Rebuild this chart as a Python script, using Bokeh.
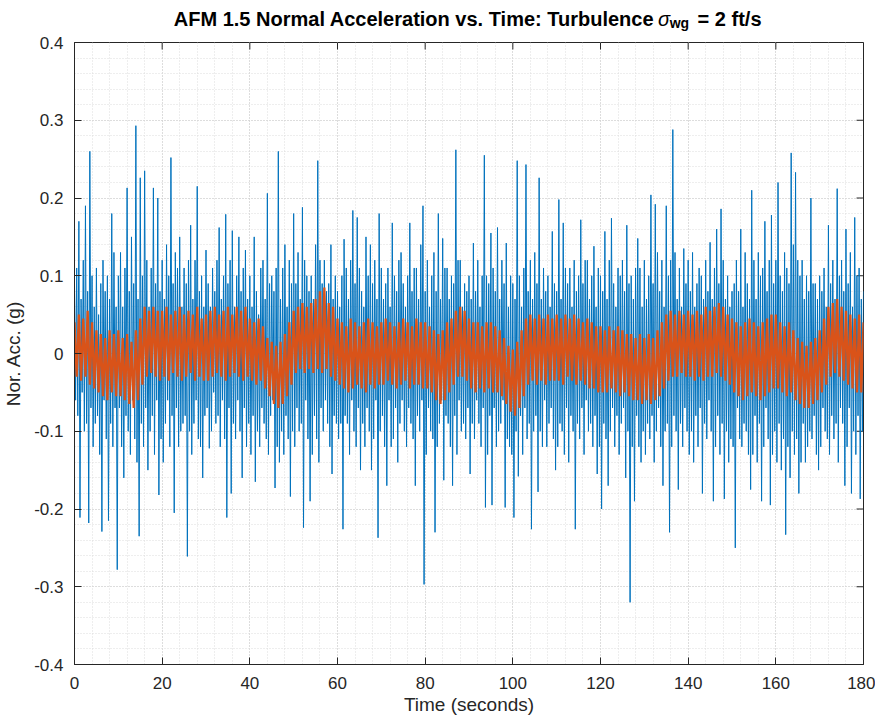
import numpy as np
from bokeh.plotting import figure
from bokeh.layouts import column
from bokeh.models import Range1d, FixedTicker, Label
from bokeh.embed import file_html
from bokeh.resources import INLINE

# ---------------- data ----------------
blue_step = 0.25     # seconds between blue samples
orange_step = 0.5    # seconds between orange samples

blue_acc = [
    0.09, -0.06, 0.11, -0.08, 0.17, -0.211, 0.07, -0.05, 0.12, -0.10, 0.19, -0.09, 0.08, -0.218, 0.26, -0.07, 0.10, -0.12, 0.06, -0.09,
    0.11, -0.08, 0.05, -0.13, 0.09, -0.229, 0.12, -0.06, 0.08, -0.11, 0.10, -0.215, 0.07, -0.09, 0.18, -0.12, 0.13, -0.07, 0.06, -0.278,
    0.10, -0.07, 0.13, -0.12, 0.06, -0.16, 0.11, -0.08, 0.213, -0.10, 0.08, -0.13, 0.15, -0.06, 0.09, -0.11, 0.293, -0.14, 0.07, -0.235,
    0.226, -0.09, 0.10, -0.12, 0.235, -0.07, 0.12, -0.15, 0.06, -0.10, 0.11, -0.08, 0.213, -0.13, 0.09, -0.06, 0.20, -0.182, 0.08, -0.11,
    0.12, -0.14, 0.07, -0.09, 0.14, -0.06, 0.10, -0.12, 0.252, -0.08, 0.09, -0.205, 0.13, -0.07, 0.11, -0.12, 0.15, -0.10, 0.06, -0.09,
    0.11, -0.08, 0.09, -0.261, 0.12, -0.10, 0.165, -0.13, 0.07, -0.09, 0.12, -0.06, 0.215, -0.11, 0.08, -0.12, 0.10, -0.16, 0.06, -0.08,
    0.133, -0.07, 0.09, -0.122, 0.06, -0.10, 0.11, -0.05, 0.08, -0.09, 0.12, -0.08, 0.162, -0.12, 0.07, -0.06, 0.10, -0.11, 0.179, -0.211,
    0.09, -0.07, 0.12, -0.18, 0.158, -0.09, 0.06, -0.11, 0.10, -0.06, 0.15, -0.10, 0.08, -0.16, 0.11, -0.07, 0.133, -0.12, 0.07, -0.09,
    0.10, -0.13, 0.06, -0.08, 0.15, -0.165, 0.08, -0.10, 0.05, -0.12, 0.11, -0.07, 0.12, -0.09, 0.07, -0.11, 0.206, -0.13, 0.09, -0.08,
    0.10, -0.06, 0.08, -0.173, 0.11, -0.12, 0.26, -0.14, 0.07, -0.10, 0.11, -0.13, 0.14, -0.08, 0.06, -0.11, 0.12, -0.184, 0.09, -0.10,
    0.18, -0.12, 0.09, -0.07, 0.13, -0.10, 0.07, -0.09, 0.188, -0.224, 0.12, -0.06, 0.10, -0.11, 0.08, -0.19, 0.10, -0.13, 0.07, -0.08,
    0.14, -0.11, 0.248, -0.14, 0.12, -0.07, 0.09, -0.10, 0.12, -0.06, 0.08, -0.09, 0.09, -0.12, 0.14, -0.155, 0.07, -0.08, 0.10, -0.09,
    0.08, -0.11, 0.06, -0.09, 0.10, -0.226, 0.147, -0.08, 0.11, -0.09, 0.07, -0.13, 0.12, -0.06, 0.184, -0.10, 0.09, -0.12, 0.175, -0.07,
    0.11, -0.15, 0.08, -0.09, 0.06, -0.12, 0.15, -0.07, 0.10, -0.10, 0.14, -0.15, 0.09, -0.11, 0.12, -0.06, 0.07, -0.237, 0.18, -0.10,
    0.11, -0.08, 0.07, -0.12, 0.09, -0.17, 0.11, -0.06, 0.06, -0.12, 0.168, -0.11, 0.10, -0.07, 0.08, -0.14, 0.12, -0.09, 0.13, -0.06,
    0.09, -0.10, 0.06, -0.12, 0.10, -0.07, 0.168, -0.09, 0.08, -0.11, 0.11, -0.17, 0.11, -0.08, 0.07, -0.10, 0.14, -0.06, 0.19, -0.297,
    0.08, -0.13, 0.12, -0.07, 0.06, -0.10, 0.10, -0.11, 0.13, -0.23, 0.08, -0.12, 0.18, -0.09, 0.07, -0.06, 0.148, -0.163, 0.11, -0.08,
    0.11, -0.09, 0.07, -0.12, 0.10, -0.17, 0.09, -0.08, 0.262, -0.13, 0.12, -0.06, 0.12, -0.10, 0.06, -0.09, 0.09, -0.11, 0.08, -0.07,
    0.10, -0.155, 0.07, -0.09, 0.142, -0.11, 0.08, -0.06, 0.12, -0.09, 0.06, -0.12, 0.10, -0.07, 0.255, -0.198, 0.10, -0.13, 0.09, -0.08,
    0.155, -0.195, 0.11, -0.07, 0.08, -0.12, 0.162, -0.10, 0.07, -0.09, 0.12, -0.06, 0.09, -0.198, 0.142, -0.11, 0.06, -0.12, 0.10, -0.13,
    0.09, -0.211, 0.07, -0.10, 0.248, -0.158, 0.10, -0.08, 0.06, -0.13, 0.11, -0.07, 0.243, -0.11, 0.08, -0.09, 0.12, -0.226, 0.07, -0.10,
    0.13, -0.08, 0.09, -0.178, 0.226, -0.10, 0.07, -0.12, 0.11, -0.06, 0.08, -0.12, 0.10, -0.09, 0.06, -0.07, 0.157, -0.11, 0.09, -0.15,
    0.08, -0.12, 0.198, -0.09, 0.07, -0.10, 0.168, -0.13, 0.11, -0.07, 0.09, -0.14, 0.11, -0.08, 0.06, -0.10, 0.12, -0.226, 0.08, -0.09,
    0.10, -0.11, 0.172, -0.07, 0.09, -0.13, 0.12, -0.06, 0.12, -0.10, 0.07, -0.09, 0.10, -0.12, 0.138, -0.08, 0.06, -0.155, 0.11, -0.12,
    0.10, -0.20, 0.08, -0.09, 0.157, -0.11, 0.07, -0.17, 0.12, -0.10, 0.174, -0.07, 0.09, -0.12, 0.06, -0.08, 0.11, -0.13, 0.10, -0.09,
    0.12, -0.07, 0.08, -0.16, 0.165, -0.10, 0.09, -0.32, 0.10, -0.12, 0.07, -0.19, 0.11, -0.08, 0.148, -0.12, 0.11, -0.14, 0.06, -0.10,
    0.12, -0.13, 0.07, -0.09, 0.10, -0.11, 0.204, -0.08, 0.09, -0.14, 0.192, -0.10, 0.13, -0.07, 0.08, -0.12, 0.12, -0.17, 0.06, -0.10,
    0.19, -0.09, 0.10, -0.23, 0.12, -0.12, 0.288, -0.08, 0.13, -0.10, 0.07, -0.175, 0.11, -0.09, 0.06, -0.12, 0.135, -0.07, 0.09, -0.10,
    0.12, -0.13, 0.08, -0.10, 0.13, -0.14, 0.06, -0.08, 0.09, -0.12, 0.11, -0.07, 0.10, -0.18, 0.07, -0.09, 0.12, -0.11, 0.08, -0.06,
    0.143, -0.10, 0.07, -0.19, 0.11, -0.12, 0.16, -0.08, 0.09, -0.13, 0.186, -0.09, 0.12, -0.187, 0.07, -0.10, 0.10, -0.14, 0.06, -0.11,
    0.08, -0.12, 0.09, -0.25, 0.12, -0.07, 0.08, -0.11, 0.16, -0.12, 0.06, -0.09, 0.13, -0.10, 0.09, -0.13, 0.07, -0.175, 0.21, -0.13,
    0.12, -0.08, 0.07, -0.14, 0.13, -0.09, 0.10, -0.19, 0.11, -0.12, 0.17, -0.07, 0.08, -0.11, 0.12, -0.195, 0.178, -0.13, 0.09, -0.10,
    0.12, -0.14, 0.22, -0.09, 0.10, -0.15, 0.08, -0.11, 0.13, -0.233, 0.11, -0.12, 0.09, -0.16, 0.258, -0.10, 0.14, -0.13, 0.233, -0.11,
    0.12, -0.18, 0.10, -0.14, 0.12, -0.09, 0.07, -0.14, 0.10, -0.12, 0.08, -0.10, 0.20, -0.11, 0.09, -0.08, 0.09, -0.13, 0.07, -0.15,
    0.10, -0.12, 0.08, -0.07, 0.11, -0.10, 0.06, -0.11, 0.165, -0.13, 0.09, -0.08, 0.12, -0.11, 0.07, -0.09, 0.212, -0.14, 0.10, -0.07,
    0.12, -0.09, 0.08, -0.17, 0.16, -0.12, 0.09, -0.07, 0.13, -0.18, 0.06, -0.10, 0.175, -0.13, 0.10, -0.08, 0.11, -0.187, 0.07, -0.10,
    0.08,
]

orange_acc = [
    0.04, -0.03, 0.05, -0.035, 0.045, -0.03, 0.055, -0.04, 0.04, -0.045, 0.03, -0.05, 0.025, -0.055, 0.02, -0.06, 0.03, -0.05, 0.025, -0.055,
    0.03, -0.055, 0.02, -0.06, 0.025, -0.065, 0.015, -0.07, 0.03, -0.06, 0.045, -0.04, 0.06, -0.03, 0.055, -0.025, 0.06, -0.03, 0.055, -0.035,
    0.055, -0.03, 0.06, -0.035, 0.05, -0.025, 0.055, -0.03, 0.06, -0.035, 0.05, -0.03, 0.055, -0.025, 0.05, -0.035, 0.06, -0.03, 0.045, -0.035,
    0.05, -0.035, 0.055, -0.03, 0.06, -0.025, 0.05, -0.03, 0.055, -0.035, 0.06, -0.03, 0.05, -0.025, 0.06, -0.03, 0.055, -0.035, 0.06, -0.03,
    0.045, -0.035, 0.04, -0.04, 0.045, -0.035, 0.035, -0.045, 0.02, -0.055, 0.015, -0.065, 0.01, -0.07, 0.015, -0.065, 0.025, -0.055, 0.04, -0.04,
    0.055, -0.025, 0.06, -0.02, 0.065, -0.025, 0.06, -0.02, 0.065, -0.025, 0.07, -0.02, 0.08, -0.025, 0.085, -0.02, 0.065, -0.03, 0.06, -0.035,
    0.045, -0.04, 0.04, -0.045, 0.035, -0.05, 0.045, -0.045, 0.04, -0.04, 0.035, -0.045, 0.04, -0.05, 0.045, -0.04, 0.04, -0.045, 0.035, -0.04,
    0.04, -0.04, 0.045, -0.035, 0.04, -0.04, 0.035, -0.045, 0.04, -0.04, 0.045, -0.035, 0.04, -0.045, 0.035, -0.04, 0.045, -0.04, 0.04, -0.045,
    0.04, -0.045, 0.035, -0.05, 0.03, -0.06, 0.025, -0.065, 0.03, -0.06, 0.04, -0.05, 0.045, -0.04, 0.055, -0.03, 0.06, -0.03, 0.055, -0.035,
    0.045, -0.045, 0.04, -0.05, 0.04, -0.045, 0.035, -0.05, 0.04, -0.045, 0.04, -0.05, 0.035, -0.05, 0.03, -0.055, 0.02, -0.065, 0.01, -0.075,
    0.005, -0.08, 0.015, -0.07, 0.03, -0.055, 0.045, -0.04, 0.05, -0.035, 0.045, -0.04, 0.05, -0.035, 0.045, -0.04, 0.05, -0.035, 0.045, -0.035,
    0.05, -0.035, 0.045, -0.04, 0.05, -0.03, 0.045, -0.035, 0.05, -0.04, 0.045, -0.035, 0.04, -0.04, 0.045, -0.045, 0.04, -0.045, 0.035, -0.05,
    0.035, -0.05, 0.03, -0.05, 0.035, -0.045, 0.03, -0.05, 0.035, -0.055, 0.03, -0.05, 0.025, -0.055, 0.025, -0.06, 0.02, -0.06, 0.025, -0.065,
    0.02, -0.06, 0.025, -0.065, 0.02, -0.06, 0.03, -0.055, 0.04, -0.045, 0.05, -0.035, 0.055, -0.03, 0.05, -0.03, 0.055, -0.025, 0.05, -0.03,
    0.055, -0.03, 0.05, -0.035, 0.055, -0.03, 0.05, -0.035, 0.06, -0.03, 0.055, -0.03, 0.06, -0.025, 0.065, -0.03, 0.06, -0.035, 0.05, -0.04,
    0.045, -0.05, 0.04, -0.055, 0.035, -0.06, 0.04, -0.055, 0.045, -0.05, 0.04, -0.055, 0.035, -0.06, 0.04, -0.055, 0.045, -0.05, 0.05, -0.045,
    0.05, -0.045, 0.04, -0.05, 0.035, -0.055, 0.04, -0.05, 0.03, -0.06, 0.02, -0.065, 0.015, -0.07, 0.01, -0.07, 0.015, -0.065, 0.02, -0.06,
    0.03, -0.05, 0.045, -0.04, 0.06, -0.03, 0.065, -0.025, 0.07, -0.03, 0.06, -0.035, 0.055, -0.04, 0.05, -0.045, 0.045, -0.05, 0.05, -0.05,
    0.04,
]

xtick_values = [0, 20, 40, 60, 80, 100, 120, 140, 160, 180]
xtick_labels = ["0", "20", "40", "60", "80", "100", "120", "140", "160", "180"]
ytick_values = [-0.4, -0.3, -0.2, -0.1, 0, 0.1, 0.2, 0.3, 0.4]
ytick_labels = ["-0.4", "-0.3", "-0.2", "-0.1", "0", "0.1", "0.2", "0.3", "0.4"]

time_blue = [i * blue_step for i in range(len(blue_acc))]
time_orange = [i * orange_step for i in range(len(orange_acc))]

# ---------------- layout constants ----------------
FONT = "Liberation Sans"
TXT = "#262626"
FIG_W = 875
TITLE_H = 32
MAIN_H = 685
BORDER_L, BORDER_R, BORDER_T, BORDER_B = 68, 12, 10, 52
XMIN, XMAX, YMIN, YMAX = 0, 180, -0.4, 0.4

# ---------------- main figure ----------------
p = figure(width=FIG_W, height=MAIN_H, title=None,
           x_range=Range1d(XMIN, XMAX), y_range=Range1d(YMIN, YMAX),
           output_backend="svg", toolbar_location=None,
           min_border_left=BORDER_L, min_border_right=BORDER_R,
           min_border_top=BORDER_T, min_border_bottom=BORDER_B,
           background_fill_color="white", border_fill_color="white")
p.outline_line_color = TXT
p.outline_line_width = 1

xminor = list(np.arange(XMIN, XMAX + 0.001, 4.0))
yminor = [round(v, 3) for v in np.arange(YMIN, YMAX + 0.0001, 0.02)]
xticker = FixedTicker(ticks=xtick_values, minor_ticks=xminor)
yticker = FixedTicker(ticks=ytick_values, minor_ticks=yminor)

for ax in p.xaxis:
    ax.ticker = xticker
    ax.major_label_overrides = {v: s for v, s in zip(xtick_values, xtick_labels)}
    ax.axis_label = "Time (seconds)"
    ax.major_label_standoff = 8
    ax.axis_label_standoff = 2
for ax in p.yaxis:
    ax.ticker = yticker
    ax.major_label_overrides = {v: s for v, s in zip(ytick_values, ytick_labels)}
    ax.axis_label = "Nor. Acc. (g)"
    ax.major_label_standoff = 7
    ax.axis_label_standoff = 7

for ax in p.xaxis + p.yaxis:
    ax.axis_line_color = TXT
    ax.major_tick_line_color = TXT
    ax.major_tick_in = 7
    ax.major_tick_out = 0
    ax.minor_tick_line_color = None
    ax.major_label_text_font = FONT
    ax.major_label_text_color = TXT
    ax.major_label_text_font_size = "17px"
    ax.axis_label_text_font = FONT
    ax.axis_label_text_color = TXT
    ax.axis_label_text_font_style = "normal"
    ax.axis_label_text_font_size = "19px"

for g in (p.xgrid[0], p.ygrid[0]):
    g.grid_line_color = "#cccccc"
    g.grid_line_dash = "1 2"
    g.grid_line_width = 1
    g.minor_grid_line_color = "#dcdcdc"
    g.minor_grid_line_dash = "1 2"
    g.minor_grid_line_width = 1

# tick marks on the top and right edges of the box (MATLAB "box on")
frame_w_est = FIG_W - BORDER_L - BORDER_R
frame_h_est = MAIN_H - BORDER_T - BORDER_B
tick_px = 7
dy = (YMAX - YMIN) * tick_px / frame_h_est
dx = (XMAX - XMIN) * tick_px / frame_w_est
p.segment(x0=xtick_values, y0=[YMAX] * len(xtick_values),
          x1=xtick_values, y1=[YMAX - dy] * len(xtick_values),
          line_color=TXT, line_width=1)
p.segment(x0=[XMAX] * len(ytick_values), y0=ytick_values,
          x1=[XMAX - dx] * len(ytick_values), y1=ytick_values,
          line_color=TXT, line_width=1)

p.line(time_blue, blue_acc, line_color="#0072BD", line_width=1.0)
p.line(time_orange, orange_acc, line_color="#D95319", line_width=2.3)

# ---------------- title strip (sigma italic, "wg" subscript) ----------------
t = figure(width=FIG_W, height=TITLE_H, x_range=Range1d(0, FIG_W), y_range=Range1d(0, TITLE_H),
           output_backend="svg", toolbar_location=None,
           x_axis_location=None, y_axis_location=None,
           min_border=0, min_border_left=0, min_border_right=0,
           min_border_top=0, min_border_bottom=0,
           background_fill_color="white", border_fill_color="white")
t.outline_line_color = None
t.xgrid.visible = False
t.ygrid.visible = False

anchor = 643          # where "Turbulence" ends and the sigma starts (px in the strip)
base_y, sub_y = 13.5, 10.0
base = dict(y_units="data", x_units="data", text_color="black", text_font=FONT,
            text_baseline="alphabetic")
t.add_layout(Label(x=anchor, y=base_y, text="AFM 1.5 Normal Acceleration vs. Time: Turbulence",
                   text_align="right", text_font_size="20px", text_font_style="bold", **base))
t.add_layout(Label(x=anchor + 4, y=base_y, text="\u03c3", text_align="left",
                   text_font_size="20px", text_font_style="italic", **base))
t.add_layout(Label(x=anchor + 17, y=sub_y, text="wg", text_align="left",
                   text_font_size="14px", text_font_style="bold", **base))
t.add_layout(Label(x=anchor + 48, y=base_y, text="= 2 ft/s", text_align="left",
                   text_font_size="20px", text_font_style="bold", **base))

layout = column(t, p, spacing=0)
open("out.html", "w").write(file_html(layout, INLINE))
